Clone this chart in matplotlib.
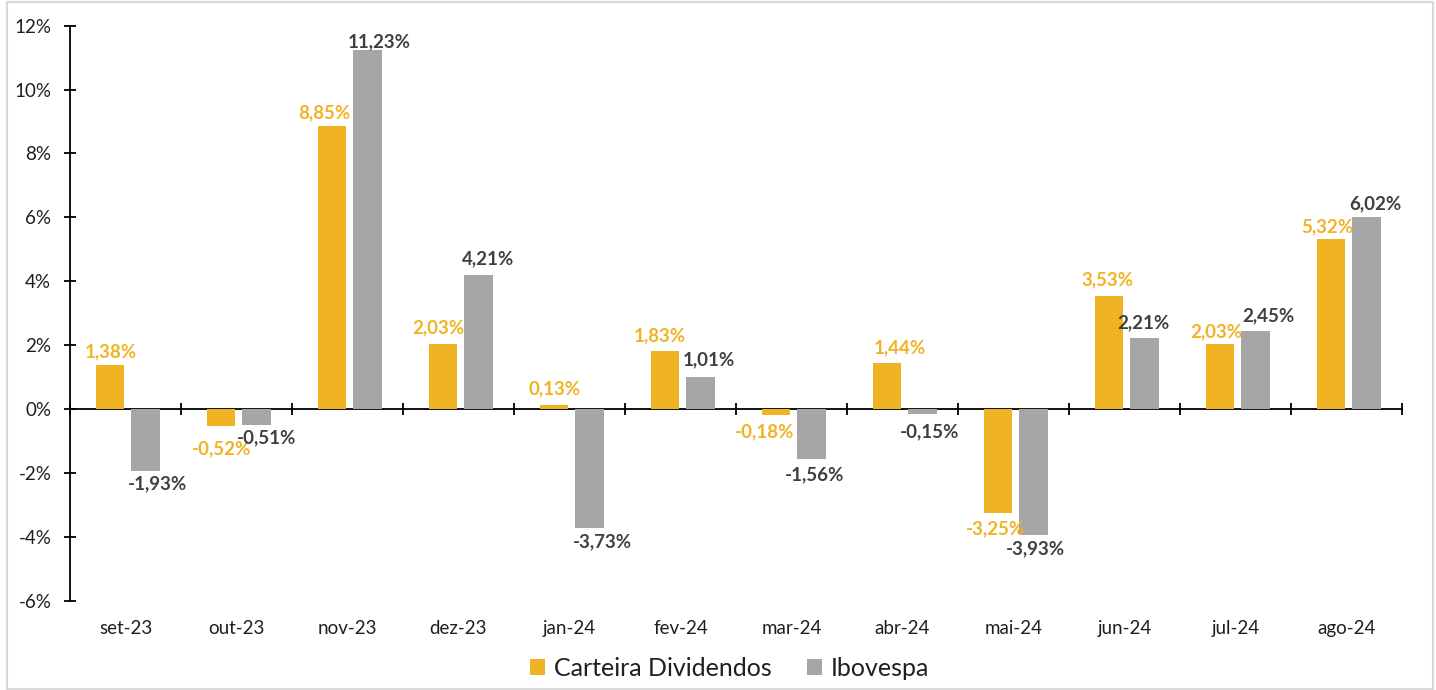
import numpy as np
from matplotlib import pyplot as plt
from matplotlib.patches import Rectangle
from matplotlib.ticker import FuncFormatter

plt.rcParams['font.family'] = ['Lato', 'DejaVu Sans']

months = ["set-23", "out-23", "nov-23", "dez-23", "jan-24", "fev-24",
          "mar-24", "abr-24", "mai-24", "jun-24", "jul-24", "ago-24"]
carteira = [1.38, -0.52, 8.85, 2.03, 0.13, 1.83, -0.18, 1.44, -3.25, 3.53, 2.03, 5.32]
ibovespa = [-1.93, -0.51, 11.23, 4.21, -3.73, 1.01, -1.56, -0.15, -3.93, 2.21, 2.45, 6.02]
yticks = [-6, -4, -2, 0, 2, 4, 6, 8, 10, 12]

# label nudges in pixels (x, distance from bar end)
cart_dx = [1, 0, -8, -5, 0, -5, -12, 13, -3, -2, -4, -4]
cart_dy = [13, 23, 14, 16, 16, 15, 17, 15, 16, 17, 12, 12]
ibov_dx = [12, 10, 12, 10, 13, 9, 3, 7, 2, -1, 13, 9]
ibov_dy = [13, 12, 9, 16, 14, 17, 16, 18, 14, 16, 15, 13]

YELLOW = "#F0B323"
GREY = "#A6A6A6"
GREY_TXT = "#404040"
TXT = "#1F1F1F"

fig = plt.figure(figsize=(14.36, 6.9), dpi=100)
ax = fig.add_axes([70/1436, 1-600.7/690, 1332/1436, 575/690])

x = np.arange(len(months))
w = 0.257
b1 = ax.bar(x - 0.138, carteira, w, color=YELLOW, label="Carteira Dividendos", zorder=2)
b2 = ax.bar(x + 0.178, ibovespa, w, color=GREY, label="Ibovespa", zorder=2)

px = 72 / 100
for bars, vals, dxs, dys, col in [(b1, carteira, cart_dx, cart_dy, YELLOW),
                                   (b2, ibovespa, ibov_dx, ibov_dy, GREY_TXT)]:
    for r, v, dx, dy in zip(bars, vals, dxs, dys):
        s = 1 if v >= 0 else -1
        ax.annotate(f"{v:.2f}%".replace(".", ","),
                    (r.get_x() + r.get_width()/2, v),
                    xytext=(dx*px, s*dy*px), textcoords="offset points",
                    ha="center", va="center", fontsize=13.5, fontweight="bold",
                    color=col, zorder=4)

ax.set_xlim(-0.5, len(months) - 0.5)
ax.set_ylim(-6, 12)
ax.set_yticks(yticks)
ax.yaxis.set_major_formatter(FuncFormatter(lambda v, p: f"{v:.0f}%"))
ax.set_xticks(x)
ax.set_xticklabels(months)

for s in ["top", "right", "bottom"]:
    ax.spines[s].set_visible(False)
ax.spines["left"].set_linewidth(1.3)
ax.spines["left"].set_color("black")
ax.tick_params(axis="y", direction="inout", length=9, width=1.3, pad=9,
               labelsize=13.5, labelcolor=TXT)
ax.tick_params(axis="x", length=0, pad=14, labelsize=13.5, labelcolor=TXT)

# zero line with category separators
sec = ax.secondary_xaxis(0, transform=ax.transData)
sec.set_xticks(np.arange(len(months) + 1) - 0.5)
sec.tick_params(direction="inout", length=9, width=1.3, labelbottom=False)
sec.spines["bottom"].set_linewidth(1.3)
sec.spines["bottom"].set_color("black")
sec.spines["bottom"].set_zorder(3)

fig.legend(handles=[b1, b2], loc="center", bbox_to_anchor=(0.508, 1 - 668/690),
           ncol=2, frameon=False, fontsize=18, handlelength=0.6,
           handleheight=0.6, handletextpad=0.35, columnspacing=1.4,
           labelcolor=TXT)

fig.patches.append(Rectangle((7/1436, 1/690), 1426/1436, 687/690,
                             transform=fig.transFigure, fill=False,
                             edgecolor="#D9D9D9", linewidth=1.5))

fig.savefig("out.png", dpi=100)
